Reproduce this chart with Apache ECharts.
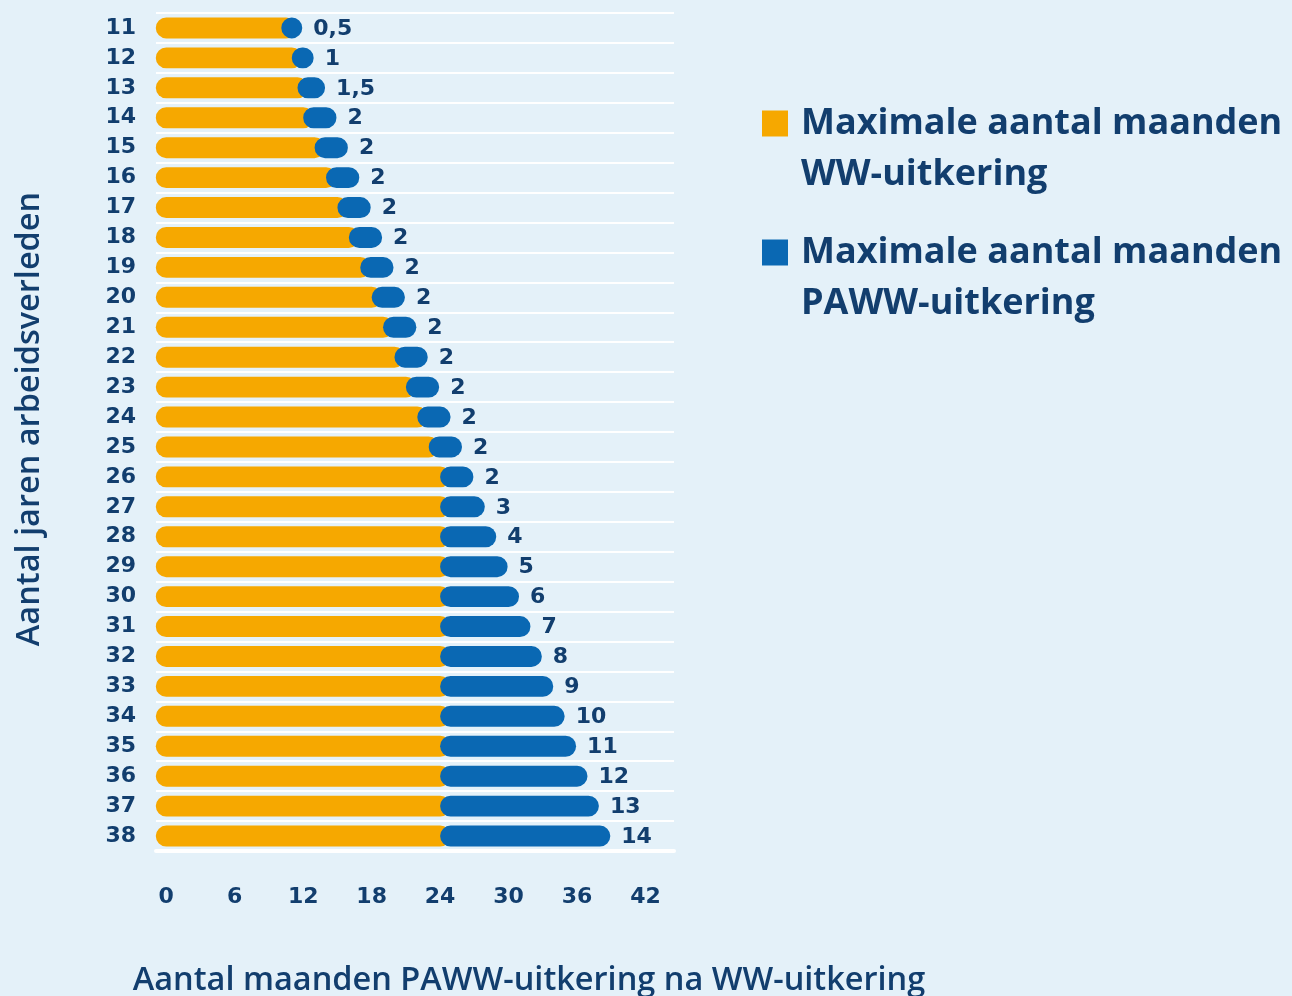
<!DOCTYPE html>
<html>
<head>
<meta charset="utf-8">
<title>WW en PAWW</title>
<script src="https://cdn.jsdelivr.net/npm/echarts@6/dist/echarts.min.js"></script>
<style>
    html, body { margin: 0; padding: 0; background: #e4f1f9; }
    #main { width: 1292px; height: 996px; }
</style>
</head>
<body>
<div id="main"></div>
<script>
// jaren arbeidsverleden (van boven naar beneden)
var years = ['11', '12', '13', '14', '15', '16', '17', '18', '19', '20', '21', '22', '23', '24',
    '25', '26', '27', '28', '29', '30', '31', '32', '33', '34', '35', '36', '37', '38'];

// maximale aantal maanden WW
var wwMonths = [10.5, 11, 11.5, 12, 13, 14, 15, 16, 17, 18, 19, 20, 21, 22,
    23, 24, 24, 24, 24, 24, 24, 24, 24, 24, 24, 24, 24, 24];

// maximale aantal maanden PAWW
var pawwMonths = [0.5, 1, 1.5, 2, 2, 2, 2, 2, 2, 2, 2, 2, 2, 2,
    2, 2, 3, 4, 5, 6, 7, 8, 9, 10, 11, 12, 13, 14];

var xTickLabels = [0, 6, 12, 18, 24, 30, 36, 42];

var orange = '#f6a800';
var blue = '#0a68b3';
var navy = '#123e6e';
var textFont = '"Open Sans", "Noto Sans", sans-serif';
var numFont = '"DejaVu Sans", sans-serif';

function fmt(v) {
    return String(v).replace('.', ',');
}

var wwData = [];
var pawwData = [];
for (var i = 0; i < years.length; i++) {
    wwData.push([0, wwMonths[i], i]);
    pawwData.push([wwMonths[i], wwMonths[i] + pawwMonths[i], i, pawwMonths[i]]);
}

// balk met ronde uiteinden die buiten de waarde uitsteken
function renderWW(params, api) {
    var cat = api.value(2);
    var start = api.coord([api.value(0), cat]);
    var end = api.coord([api.value(1), cat]);
    var h = api.size([0, 1])[1] * 0.7;
    return {
        type: 'rect',
        shape: { x: start[0] - h / 2, y: start[1] - h / 2, width: end[0] - start[0] + h, height: h, r: h / 2 },
        style: { fill: orange }
    };
}

function renderPaww(params, api) {
    var cat = api.value(2);
    var start = api.coord([api.value(0), cat]);
    var end = api.coord([api.value(1), cat]);
    var h = api.size([0, 1])[1] * 0.7;
    var x0 = Math.min(start[0], end[0] - h / 2);
    var x1 = end[0] + h / 2;
    return {
        type: 'group',
        children: [{
            type: 'rect',
            shape: { x: x0, y: end[1] - h / 2, width: x1 - x0, height: h, r: h / 2 },
            style: { fill: blue }
        }, {
            type: 'text',
            x: x1 + 11,
            y: end[1] + 1,
            style: {
                text: fmt(api.value(3)),
                fill: navy,
                font: 'bold 22px ' + numFont,
                align: 'left',
                verticalAlign: 'middle'
            }
        }]
    };
}

var chart = echarts.init(document.getElementById('main'));

var option = {
    backgroundColor: '#e4f1f9',
    animation: false,
    legend: {
        orient: 'vertical',
        left: 762,
        top: 47,
        padding: 0,
        itemWidth: 26,
        itemHeight: 26,
        itemGap: -24,
        icon: 'rect',
        textStyle: {
            color: navy,
            fontFamily: textFont,
            fontWeight: 'bold',
            fontSize: 36,
            lineHeight: 50,
            rich: {
                t: {
                    color: navy,
                    fontFamily: textFont,
                    fontWeight: 'bold',
                    fontSize: 36,
                    lineHeight: 51,
                    padding: [0, 0, 0, 8]
                }
            }
        },
        formatter: function (name) {
            var parts = name.split('maanden ');
            return '{t| }\n{t|' + parts[0] + 'maanden}\n{t|' + parts[1] + '}';
        },
        data: ['Maximale aantal maanden WW-uitkering', 'Maximale aantal maanden PAWW-uitkering']
    },
    grid: {
        left: 156,
        right: 618,
        top: 13,
        bottom: 145,
        outerBoundsMode: 'none'
    },
    xAxis: {
        type: 'value',
        min: -0.9,
        max: 44.5,
        name: 'Aantal maanden PAWW-uitkering na WW-uitkering',
        nameLocation: 'middle',
        nameGap: 113,
        nameTextStyle: {
            color: navy,
            fontFamily: textFont,
            fontWeight: 600,
            fontSize: 32.5,
            padding: [0, 0, 0, 228]
        },
        axisLine: { show: true, lineStyle: { color: '#ffffff', width: 4 } },
        axisTick: { show: false },
        splitLine: { show: false },
        axisLabel: {
            customValues: xTickLabels,
            margin: 35,
            color: navy,
            fontFamily: numFont,
            fontWeight: 'bold',
            fontSize: 22
        }
    },
    yAxis: {
        type: 'category',
        inverse: true,
        data: years,
        name: 'Aantal jaren arbeidsverleden',
        nameLocation: 'middle',
        nameGap: 110,
        nameTextStyle: {
            color: navy,
            fontFamily: textFont,
            fontWeight: 600,
            fontSize: 32.5,
            padding: [0, 0, 0, 26]
        },
        axisLine: { show: false },
        axisTick: { show: false },
        splitLine: { show: true, lineStyle: { color: '#ffffff', width: 2 } },
        axisLabel: {
            margin: 20,
            color: navy,
            fontFamily: numFont,
            fontWeight: 'bold',
            fontSize: 22
        }
    },
    series: [{
        name: 'Maximale aantal maanden WW-uitkering',
        type: 'custom',
        itemStyle: { color: orange },
        renderItem: renderWW,
        encode: { x: [0, 1], y: 2 },
        data: wwData
    }, {
        name: 'Maximale aantal maanden PAWW-uitkering',
        type: 'custom',
        itemStyle: { color: blue },
        renderItem: renderPaww,
        encode: { x: [0, 1], y: 2 },
        data: pawwData
    }]
};

chart.setOption(option);
</script>
</body>
</html>
